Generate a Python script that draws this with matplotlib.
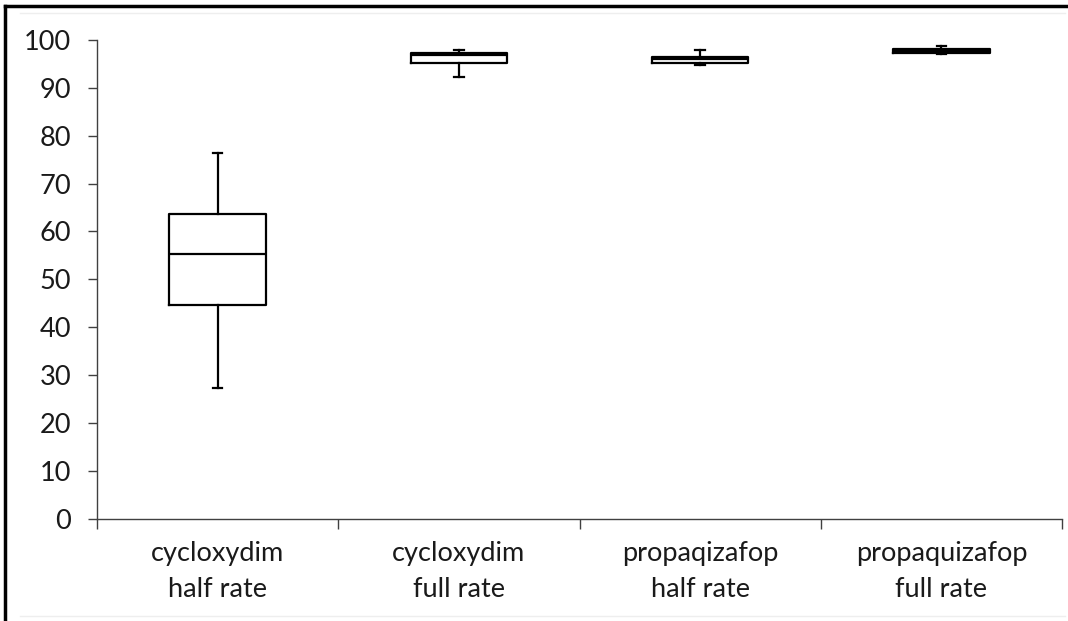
import matplotlib
matplotlib.use("Agg")
import matplotlib.pyplot as plt
from matplotlib.lines import Line2D

plt.rcParams["font.family"] = ["Lato", "DejaVu Sans"]

categories = ["cycloxydim\nhalf rate", "cycloxydim\nfull rate",
              "propaqizafop\nhalf rate", "propaquizafop\nfull rate"]
whisker_low = [27.2, 92.3, 94.7, 97.0]
q1 = [44.6, 95.2, 95.1, 97.2]
median = [55.3, 96.8, 96.0, 97.7]
q3 = [63.6, 97.2, 96.5, 98.2]
whisker_high = [76.3, 97.9, 97.9, 98.8]

TEXT = "#1a1a1a"

fig = plt.figure(figsize=(10.68, 6.21), dpi=100)
ax = fig.add_axes([97 / 1068, 1 - 518.7 / 621, (1062 - 97) / 1068, (518.7 - 40) / 621])

stats = []
for i, name in enumerate(categories):
    stats.append({"label": name, "whislo": whisker_low[i], "q1": q1[i],
                  "med": median[i], "q3": q3[i], "whishi": whisker_high[i],
                  "fliers": []})

positions = [i + 0.5 for i in range(len(categories))]
lw = 1.6
ax.bxp(stats, positions=positions, widths=0.4, capwidths=0.04,
       showfliers=False, manage_ticks=False,
       boxprops=dict(color="black", linewidth=lw),
       medianprops=dict(color="black", linewidth=lw),
       whiskerprops=dict(color="black", linewidth=lw),
       capprops=dict(color="black", linewidth=lw))

ax.set_xlim(0, len(categories))
ax.set_ylim(0, 100)
ax.set_yticks(range(0, 101, 10))
ax.set_xticks(range(0, len(categories) + 1))
ax.set_xticklabels([])
ax.set_xticks(positions, minor=True)
ax.set_xticklabels(categories, minor=True, linespacing=1.55)

ax.tick_params(axis="y", direction="out", length=6.5, width=1, color="#404040",
               labelsize=19.5, labelcolor=TEXT, pad=12)
ax.tick_params(axis="x", which="major", direction="out", length=7, width=1, color="#404040")
ax.tick_params(axis="x", which="minor", length=0, labelsize=19.5, labelcolor=TEXT, pad=16)

for side in ("top", "right"):
    ax.spines[side].set_visible(False)
for side in ("left", "bottom"):
    ax.spines[side].set_color("#404040")
    ax.spines[side].set_linewidth(1)

# outer frame: black top and left edges, faint grey rules
W, H = 1068, 621
def px_line(x0, y0, x1, y1, color, width):
    fig.add_artist(Line2D([x0 / W, x1 / W], [1 - y0 / H, 1 - y1 / H],
                          transform=fig.transFigure, color=color, linewidth=width))

px_line(5, 6, 1068, 6, "black", 2.5)
px_line(5, 6, 5, 621, "black", 2.5)
px_line(20, 13, 1065, 13, "#eeeeee", 1)
px_line(20, 616, 1065, 616, "#eeeeee", 1)

fig.savefig("out.png", dpi=100)
